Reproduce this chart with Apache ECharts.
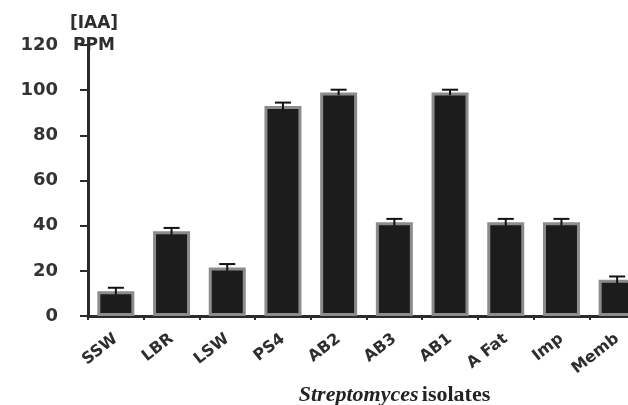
<!DOCTYPE html>
<html>
<head>
<meta charset="utf-8">
<script src="https://cdn.jsdelivr.net/npm/echarts@6/dist/echarts.min.js"></script>
<style>html,body{margin:0;padding:0;background:#fff;}#c{width:628px;height:405px;}</style>
</head>
<body>
<div id="c"></div>
<script>
var categories = ['SSW', 'LBR', 'LSW', 'PS4', 'AB2', 'AB3', 'AB1', 'A Fat', 'Imp', 'Memb'];
var iaaValues = [11, 37.5, 21.5, 93, 99, 41.5, 99, 41.5, 41.5, 16];
var iaaErrors = [1.5, 1.5, 1.5, 1.5, 1.2, 1.5, 1.2, 1.5, 1.5, 1.5];
var yTicks = [0, 20, 40, 60, 80, 100, 120];
var yTitle = '[IAA]\nPPM';

var chart = echarts.init(document.getElementById('c'));
var errData = iaaValues.map(function (v, i) { return [i, v - iaaErrors[i], v + iaaErrors[i]]; });

chart.setOption({
  backgroundColor: '#ffffff',
  animation: false,
  grid: { left: 88, top: 45, width: 557, bottom: 89, containLabel: false, outerBoundsMode: 'none' },
  graphic: [{
    type: 'text', x: 94, y: 13,
    style: {
      text: yTitle, textAlign: 'center', textVerticalAlign: 'top',
      fontFamily: 'DejaVu Sans', fontWeight: 'bold', fontSize: 17, lineHeight: 22, fill: '#2e2e2e'
    }
  }],
  xAxis: {
    type: 'category',
    data: categories,
    boundaryGap: true,
    axisLine: { lineStyle: { color: '#2a2a2a', width: 3 } },
    axisTick: { show: true, length: 4, lineStyle: { color: '#2a2a2a', width: 2 } },
    axisLabel: {
      rotate: 38, margin: 21, interval: 0,
      fontFamily: 'DejaVu Sans', fontWeight: 'bold', fontSize: 16, color: '#2e2e2e'
    },
    name: '{i|Streptomyces} {b|isolates}',
    nameLocation: 'middle',
    nameGap: 66,
    nameTextStyle: {
      padding: [0, 0, 0, 56],
      rich: {
        i: { fontFamily: 'Liberation Serif', fontStyle: 'italic', fontWeight: 'bold', fontSize: 22, color: '#222' },
        b: { fontFamily: 'Liberation Serif', fontWeight: 'bold', fontSize: 22, color: '#222' }
      }
    }
  },
  yAxis: {
    type: 'value',
    min: yTicks[0], max: yTicks[yTicks.length - 1], interval: 20,
    splitLine: { show: false },
    axisLine: { show: true, lineStyle: { color: '#2a2a2a', width: 3 } },
    axisTick: { show: true, length: 8, lineStyle: { color: '#2a2a2a', width: 2 } },
    axisLabel: { margin: 30, fontFamily: 'DejaVu Sans', fontWeight: 'bold', fontSize: 18, color: '#333' }
  },
  series: [
    {
      type: 'bar',
      data: iaaValues,
      barWidth: 37,
      itemStyle: { color: '#1c1c1c', borderColor: '#8c8c8c', borderWidth: 3 }
    },
    {
      type: 'custom',
      data: errData,
      z: 10,
      renderItem: function (params, api) {
        var x = api.value(0);
        var lo = api.coord([x, api.value(1)]);
        var hi = api.coord([x, api.value(2)]);
        var hw = 8;
        var st = { stroke: '#111', lineWidth: 2 };
        return {
          type: 'group',
          children: [
            { type: 'line', shape: { x1: hi[0], y1: hi[1], x2: lo[0], y2: lo[1] }, style: st },
            { type: 'line', shape: { x1: hi[0] - hw, y1: hi[1], x2: hi[0] + hw, y2: hi[1] }, style: st }
          ]
        };
      }
    }
  ]
});
</script>
</body>
</html>
